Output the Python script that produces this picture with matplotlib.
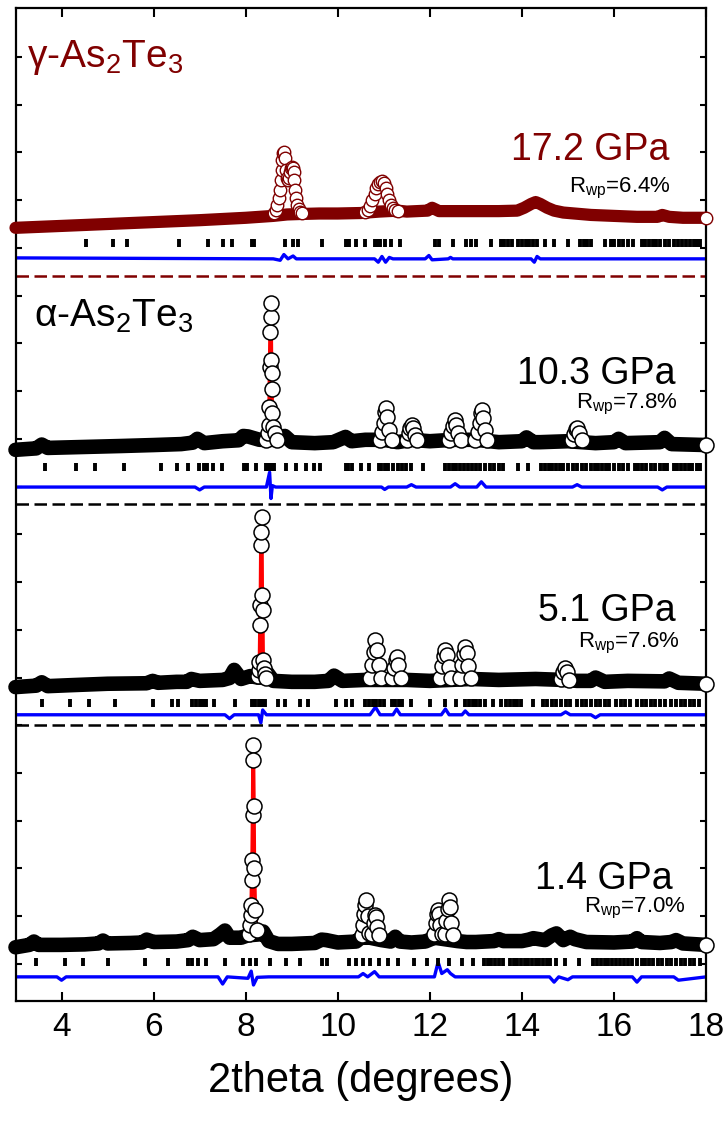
import matplotlib.pyplot as plt

plt.rcParams['font.family'] = ['Liberation Sans', 'DejaVu Sans']
plt.rcParams['mathtext.fontset'] = 'custom'
plt.rcParams['mathtext.rm'] = 'Liberation Sans'
plt.rcParams['mathtext.it'] = 'Liberation Sans:italic'

MAROON = '#800000'

# ---------------- 17.2 GPa, gamma phase ----------------
g172_band_x = [3.0, 4.0, 5.0, 6.0, 7.0, 8.0, 8.6, 8.9, 9.2, 9.6, 10.0, 10.5, 10.9, 11.3, 11.5, 11.95,
               12.05, 12.2, 12.5, 13.0, 13.5, 13.9, 14.05, 14.2, 14.3, 14.4, 14.55, 14.7, 14.9, 15.5,
               16.0, 16.5, 16.95, 17.05, 17.2, 17.5, 18.0]
g172_band_y = [15.42, 15.46, 15.5, 15.54, 15.58, 15.63, 15.67, 15.7, 15.71, 15.72, 15.72, 15.73, 15.76,
               15.78, 15.76, 15.78, 15.84, 15.77, 15.77, 15.77, 15.77, 15.78, 15.84, 15.92, 15.96,
               15.92, 15.84, 15.78, 15.74, 15.69, 15.67, 15.65, 15.65, 15.69, 15.65, 15.63, 15.63]
g172_peak_x = [[8.62, 8.66, 8.69, 8.72, 8.74, 8.76, 8.78, 8.80, 8.82, 8.84, 8.86, 8.88, 8.90, 8.92,
                8.94, 8.96, 8.98, 9.00, 9.02, 9.04, 9.06, 9.08, 9.10, 9.12, 9.15, 9.18, 9.22],
               [10.6, 10.65, 10.7, 10.75, 10.8, 10.84, 10.88, 10.92, 10.96, 11.0, 11.04, 11.08, 11.12,
                11.16, 11.2, 11.25, 11.3]]
g172_peak_y = [[15.73, 15.79, 15.9, 16.05, 16.21, 16.42, 16.63, 16.84, 16.99, 17.01, 16.88, 16.63,
                16.46, 16.42, 16.46, 16.59, 16.67, 16.7, 16.67, 16.59, 16.42, 16.21, 16.05, 15.9,
                15.81, 15.75, 15.73],
               [15.75, 15.79, 15.88, 16.0, 16.13, 16.25, 16.34, 16.38, 16.4, 16.36, 16.25, 16.13, 16.0,
                15.9, 15.84, 15.79, 15.77]]
g172_diff_x = [3, 8.6, 8.75, 8.83, 8.92, 9.03, 9.1, 10.8, 10.88, 10.96, 11.04, 11.12, 11.2, 11.9, 11.98,
               12.05, 12.4, 12.45, 12.5, 14.2, 14.27, 14.33, 14.4, 18]
g172_diff_y = [14.79, 14.77, 14.74, 14.86, 14.77, 14.83, 14.77, 14.77, 14.7, 14.82, 14.7, 14.8, 14.77,
               14.77, 14.84, 14.75, 14.77, 14.8, 14.77, 14.77, 14.7, 14.82, 14.77, 14.77]
g172_ticks = [4.53, 5.11, 5.42, 6.56, 7.19, 7.5, 7.71, 8.13, 8.18, 8.86, 9.03, 9.14, 9.66, 10.18, 10.24,
              10.4, 10.6, 10.8, 10.86, 10.92, 11.02, 11.15, 11.36, 12.12, 12.2, 12.5, 12.78, 12.9, 13.0,
              13.34, 13.55, 13.62, 13.7, 13.78, 13.92, 14.0, 14.08, 14.16, 14.24, 14.32, 14.5, 14.7,
              15.0, 15.26, 15.34, 15.42, 15.5, 15.8, 15.93, 16.0, 16.1, 16.2, 16.3, 16.42, 16.6, 16.68,
              16.76, 16.84, 16.92, 17.0, 17.12, 17.2, 17.3, 17.4, 17.48, 17.56, 17.66, 17.74, 17.8, 17.88]

# ---------------- 10.3 GPa, alpha phase ----------------
a103_band_x = [3.0, 3.45, 3.57, 3.7, 4.5, 5.3, 6.0, 6.6, 6.85, 6.95, 7.1, 7.5, 7.85, 7.95, 8.05, 8.3,
               8.45, 8.7, 8.85, 9.0, 9.5, 9.9, 10.17, 10.3, 10.6, 11.0, 11.3, 11.6, 12.0, 12.5, 13.0,
               13.5, 14.0, 14.1, 14.25, 14.4, 15.0, 15.6, 16.0, 16.1, 16.25, 17.0, 17.1, 17.25, 18.0]
a103_band_y = [10.77, 10.8, 10.88, 10.81, 10.83, 10.85, 10.87, 10.89, 10.92, 11.0, 10.91, 10.95, 10.97,
               11.06, 11.05, 10.98, 10.98, 10.98, 11.06, 10.93, 10.91, 10.93, 11.04, 10.95, 10.98,
               10.98, 10.93, 10.98, 10.95, 10.98, 10.98, 10.93, 10.95, 11.03, 10.93, 10.93, 10.95,
               10.91, 10.93, 11.0, 10.91, 10.93, 11.02, 10.89, 10.87]
a103_peak_x = [[8.45, 8.48, 8.50, 8.51, 8.52, 8.53, 8.54, 8.55, 8.56, 8.565, 8.57, 8.58, 8.60, 8.63, 8.67],
               [10.92, 10.97, 11.0, 11.03, 11.05, 11.08, 11.12, 11.17],
               [11.5, 11.55, 11.58, 11.61, 11.64, 11.68, 11.73],
               [12.42, 12.47, 12.51, 12.55, 12.58, 12.62, 12.67],
               [12.99, 13.04, 13.08, 13.11, 13.13, 13.16, 13.2, 13.25],
               [15.08, 15.13, 15.17, 15.2, 15.24, 15.3]]
a103_peak_y = [[10.98, 11.12, 11.29, 11.67, 12.51, 13.24, 13.55, 13.85, 12.65, 12.38, 12.04, 11.54, 11.25,
                11.12, 10.98],
               [10.98, 11.14, 11.33, 11.56, 11.65, 11.46, 11.19, 10.98],
               [10.98, 11.12, 11.23, 11.29, 11.23, 11.08, 10.98],
               [10.98, 11.12, 11.27, 11.4, 11.29, 11.12, 10.98],
               [10.98, 11.14, 11.33, 11.54, 11.6, 11.44, 11.19, 10.98],
               [10.98, 11.1, 11.21, 11.23, 11.12, 10.98]]
a103_diff_x = [3, 6.9, 7.0, 7.1, 8.45, 8.52, 8.55, 8.58, 8.65, 10.95, 11.02, 11.1, 11.5, 11.6, 11.7,
               12.45, 12.55, 12.65, 13.02, 13.12, 13.22, 15.1, 15.2, 15.3, 16.95, 17.05, 17.15, 18]
a103_diff_y = [9.99, 9.99, 9.93, 9.99, 9.99, 10.3, 9.75, 10.02, 9.99, 9.99, 9.94, 9.99, 9.99, 10.04,
               9.99, 9.99, 10.06, 9.99, 9.99, 10.1, 9.99, 9.99, 10.04, 9.99, 9.99, 9.93, 9.99, 9.99]
a103_ticks = [3.64, 4.31, 4.72, 5.35, 6.17, 6.5, 6.75, 6.99, 7.10, 7.17, 7.28, 7.49, 7.97, 8.03, 8.23,
              8.44, 8.5, 8.56, 8.62, 8.88, 9.09, 9.31, 9.48, 9.61, 10.17, 10.23, 10.3, 10.5, 10.67,
              10.89, 10.95, 11.02, 11.1, 11.2, 11.3, 11.4, 11.48, 11.6, 11.86, 12.34, 12.42, 12.5,
              12.58, 12.66, 12.75, 12.84, 12.92, 13.0, 13.1, 13.2, 13.3, 13.4, 13.5, 13.6, 13.92, 14.14,
              14.42, 14.5, 14.58, 14.66, 14.74, 14.82, 14.9, 15.0, 15.1, 15.2, 15.3, 15.4, 15.5, 15.58,
              15.66, 15.74, 15.82, 15.9, 16.0, 16.1, 16.2, 16.3, 16.45, 16.53, 16.61, 16.7, 16.8, 16.9,
              17.0, 17.08, 17.16, 17.3, 17.38, 17.46, 17.54, 17.62, 17.7, 17.8, 17.88]

# ---------------- 5.1 GPa, alpha phase ----------------
a51_band_x = [3.0, 3.45, 3.57, 3.7, 4.2, 5.0, 5.85, 5.98, 6.1, 6.5, 6.72, 6.82, 7.0, 7.5, 7.65, 7.75,
              7.9, 8.1, 8.26, 8.4, 8.47, 8.6, 9.0, 9.5, 9.8, 9.92, 10.1, 10.6, 11.5, 12.0, 12.9, 13.5,
              14.3, 14.9, 15.2, 15.5, 15.6, 15.8, 16.3, 17.1, 17.2, 17.4, 18.0]
a51_band_y = [5.8, 5.83, 5.9, 5.82, 5.84, 5.87, 5.88, 5.93, 5.89, 5.91, 5.91, 5.97, 5.93, 5.95, 5.99,
              6.16, 5.97, 6.03, 6.0, 6.0, 6.1, 5.93, 5.91, 5.91, 5.93, 6.04, 5.93, 5.95, 5.95, 5.93,
              5.97, 5.95, 5.97, 5.95, 5.93, 5.93, 6.0, 5.91, 5.93, 5.92, 5.98, 5.89, 5.87]
a51_peak_x = [[8.26, 8.28, 8.30, 8.31, 8.32, 8.33, 8.34, 8.35, 8.36, 8.37, 8.38, 8.39, 8.41, 8.44],
              [10.7, 10.75, 10.79, 10.82, 10.85, 10.89, 10.94],
              [11.18, 11.22, 11.26, 11.29, 11.32, 11.37],
              [12.22, 12.27, 12.31, 12.34, 12.37, 12.41, 12.46],
              [12.66, 12.7, 12.74, 12.77, 12.8, 12.84, 12.9],
              [14.85, 14.9, 14.94, 14.98, 15.03]]
a51_peak_y = [[6.03, 6.16, 6.33, 7.10, 7.52, 8.78, 9.05, 9.36, 7.73, 7.42, 6.37, 6.20, 6.07, 5.99],
              [5.99, 6.26, 6.54, 6.79, 6.58, 6.26, 5.99],
              [5.99, 6.2, 6.37, 6.43, 6.26, 5.99],
              [5.99, 6.24, 6.45, 6.58, 6.47, 6.22, 5.99],
              [5.99, 6.26, 6.49, 6.64, 6.52, 6.24, 5.99],
              [5.97, 6.12, 6.2, 6.12, 5.95]]
a51_diff_x = [3, 7.55, 7.65, 7.75, 8.28, 8.33, 8.37, 8.45, 10.7, 10.82, 10.92, 11.2, 11.28, 11.36,
              12.25, 12.34, 12.42, 12.7, 12.77, 12.85, 14.85, 14.95, 15.05, 15.5, 15.6, 15.7, 18]
a51_diff_y = [5.22, 5.22, 5.14, 5.22, 5.22, 5.05, 5.32, 5.22, 5.22, 5.38, 5.22, 5.22, 5.34, 5.22,
              5.22, 5.34, 5.22, 5.22, 5.3, 5.22, 5.22, 5.28, 5.22, 5.22, 5.16, 5.22, 5.22]
a51_ticks = [3.57, 4.19, 4.6, 5.17, 5.98, 6.41, 6.54, 6.84, 6.93, 7.0, 7.08, 7.14, 7.32, 7.77, 8.14,
             8.2, 8.3, 8.36, 8.42, 8.7, 8.85, 9.18, 9.35, 9.96, 10.17, 10.31, 10.6, 10.68, 10.76, 10.84,
             10.92, 11.0, 11.17, 11.25, 11.33, 11.39, 11.6, 12.01, 12.32, 12.58, 12.77, 12.85, 12.93,
             13.0, 13.1, 13.2, 13.38, 13.55, 13.66, 13.74, 13.82, 13.9, 13.98, 14.25, 14.45, 14.55,
             14.65, 14.75, 14.85, 14.95, 15.05, 15.2, 15.3, 15.4, 15.5, 15.6, 15.7, 15.8, 15.9, 16.05,
             16.15, 16.25, 16.35, 16.5, 16.6, 16.7, 16.8, 16.9, 17.0, 17.1, 17.25, 17.35, 17.45, 17.55,
             17.65, 17.75, 17.85]

# ---------------- 1.4 GPa, alpha phase ----------------
a14_band_x = [3.0, 3.3, 3.4, 3.5, 4.0, 4.5, 4.8, 4.9, 5.0, 5.5, 5.75, 5.85, 6.0, 6.5, 6.75, 6.85, 7.0,
              7.3, 7.45, 7.55, 7.65, 7.9, 8.05, 8.3, 8.38, 8.5, 8.7, 9.0, 9.5, 9.65, 9.75, 10.0, 10.4,
              10.5, 10.7, 10.95, 11.15, 11.25, 11.35, 11.6, 11.9, 12.0, 12.1, 12.6, 12.8, 13.0, 13.4,
              13.5, 13.6, 14.0, 14.15, 14.25, 14.5, 14.65, 14.75, 14.9, 15.05, 15.15, 15.4, 16.0, 16.4,
              16.5, 16.6, 17.0, 17.25, 17.35, 17.5, 18.0]
a14_band_y = [0.35, 0.4, 0.47, 0.4, 0.4, 0.41, 0.43, 0.49, 0.43, 0.44, 0.45, 0.51, 0.46, 0.47, 0.5,
              0.57, 0.5, 0.52, 0.62, 0.7, 0.55, 0.55, 0.6, 0.62, 0.68, 0.48, 0.42, 0.42, 0.44, 0.51,
              0.5, 0.45, 0.47, 0.55, 0.55, 0.5, 0.47, 0.57, 0.47, 0.45, 0.47, 0.51, 0.55, 0.48, 0.46,
              0.46, 0.48, 0.52, 0.48, 0.48, 0.51, 0.54, 0.5, 0.6, 0.64, 0.5, 0.57, 0.52, 0.46, 0.45,
              0.47, 0.54, 0.46, 0.44, 0.46, 0.5, 0.43, 0.4]
a14_peak_x = [[8.07, 8.09, 8.11, 8.12, 8.13, 8.14, 8.15, 8.16, 8.17, 8.18, 8.19, 8.21, 8.24],
              [10.52, 10.55, 10.58, 10.6, 10.62, 10.65, 10.69],
              [10.75, 10.78, 10.81, 10.83, 10.86, 10.9],
              [12.1, 12.13, 12.16, 12.18, 12.2, 12.23, 12.27],
              [12.33, 12.36, 12.39, 12.41, 12.43, 12.46, 12.5]]
a14_peak_y = [[0.62, 0.82, 1.03, 1.24, 1.76, 2.18, 3.12, 4.59, 4.27, 3.3, 2.0, 1.13, 0.71],
              [0.6, 0.82, 1.05, 1.24, 1.34, 1.0, 0.65],
              [0.62, 0.85, 1.03, 0.98, 0.78, 0.6],
              [0.62, 0.85, 1.05, 1.13, 1.05, 0.82, 0.62],
              [0.62, 0.9, 1.15, 1.34, 1.2, 0.85, 0.6]]
a14_diff_x = [3.0, 3.9, 4.0, 4.1, 7.4, 7.5, 7.6, 8.05, 8.12, 8.17, 8.25, 8.5, 10.45, 10.55, 10.65,
              10.8, 10.9, 12.1, 12.18, 12.26, 12.38, 12.45, 12.55, 14.6, 14.7, 14.8, 15.0, 15.1, 16.4,
              16.5, 16.6, 17.3, 17.4, 18.0]
a14_diff_y = [-0.27, -0.27, -0.34, -0.27, -0.27, -0.42, -0.27, -0.30, -0.15, -0.44, -0.28, -0.27,
              -0.27, -0.2, -0.27, -0.16, -0.27, -0.27, 0.04, -0.2, -0.12, -0.2, -0.27, -0.27, -0.38,
              -0.27, -0.33, -0.27, -0.27, -0.38, -0.27, -0.27, -0.34, -0.27]
a14_ticks = [3.45, 4.07, 4.46, 5.01, 5.82, 6.32, 6.74, 6.84, 6.97, 7.14, 7.55, 7.95, 8.1, 8.23, 8.53,
             8.88, 9.19, 9.66, 9.76, 10.25, 10.4, 10.55, 10.7, 10.9, 11.09, 11.32, 11.65, 11.93, 12.18,
             12.42, 12.69, 12.93, 13.18, 13.26, 13.34, 13.42, 13.5, 13.6, 13.74, 13.82, 13.9, 13.98,
             14.06, 14.14, 14.22, 14.3, 14.38, 14.46, 14.54, 14.62, 14.74, 14.94, 15.24, 15.55, 15.63,
             15.71, 15.8, 15.88, 15.96, 16.05, 16.14, 16.22, 16.3, 16.4, 16.5, 16.6, 16.68, 16.76,
             16.85, 16.95, 17.05, 17.15, 17.25, 17.35, 17.45, 17.55, 17.65, 17.75, 17.86]

# offsets of the tick rows and separators (stacking)
tick_rows = [15.1, 10.41, 5.47, 0.04]
separators = [(14.41, MAROON), (9.64, 'black'), (5.0, 'black')]

patterns = [
    dict(band=(g172_band_x, g172_band_y), peaks=(g172_peak_x, g172_peak_y), diff=(g172_diff_x, g172_diff_y),
         ticks=g172_ticks, col=MAROON, calc=MAROON, ms=9.0, mew=1.0, lw=8.8),
    dict(band=(a103_band_x, a103_band_y), peaks=(a103_peak_x, a103_peak_y), diff=(a103_diff_x, a103_diff_y),
         ticks=a103_ticks, col='black', calc='red', ms=10.8, mew=1.1, lw=10.5),
    dict(band=(a51_band_x, a51_band_y), peaks=(a51_peak_x, a51_peak_y), diff=(a51_diff_x, a51_diff_y),
         ticks=a51_ticks, col='black', calc='red', ms=10.8, mew=1.1, lw=10.5),
    dict(band=(a14_band_x, a14_band_y), peaks=(a14_peak_x, a14_peak_y), diff=(a14_diff_x, a14_diff_y),
         ticks=a14_ticks, col='black', calc='red', ms=10.8, mew=1.1, lw=10.5),
]

fig = plt.figure(figsize=(7.27, 11.25), dpi=100)
ax = fig.add_axes([15.5 / 727, 1 - 1000.5 / 1125, 690.5 / 727, 993 / 1125])

for p, ty in zip(patterns, tick_rows):
    bx, by = p['band']
    ax.plot(bx, by, color=p['col'], lw=p['lw'], solid_capstyle='round', solid_joinstyle='round',
            zorder=3, clip_on=False)
    for px, py in zip(*p['peaks']):
        ax.plot(px, py, color=p['calc'], lw=2.6, zorder=4)
        ax.plot(px, py, ls='none', marker='o', ms=p['ms'], mfc='white', mec=p['col'], mew=p['mew'],
                zorder=5, clip_on=False)
    # last observed point, left uncovered
    ax.plot(bx[-1], by[-1], ls='none', marker='o', ms=p['ms'], mfc='white', mec=p['col'], mew=p['mew'],
            zorder=6, clip_on=False)
    dx, dy = p['diff']
    ax.plot(dx, dy, color='#0000ff', lw=2.4, zorder=2)
    ax.plot(p['ticks'], [ty] * len(p['ticks']), ls='none', marker='|', ms=6, mew=2.8, color='black', zorder=2)

for yv, c in separators:
    ax.axhline(yv, color=c, lw=1.8, dashes=(5, 2.2), zorder=2)

# labels
ax.text(3.25, 18.79, 'γ-As$_2$Te$_3$', color=MAROON, fontsize=28, va='baseline')
ax.text(3.4, 13.34, 'α-As$_2$Te$_3$', color='black', fontsize=28, va='baseline')
ax.text(17.21, 16.84, '17.2 GPa', color=MAROON, fontsize=27, ha='right', va='baseline')
ax.text(17.23, 16.17, 'R$_{\\mathrm{wp}}$=6.4%', fontsize=16, ha='right', va='baseline')
ax.text(17.34, 12.15, '10.3 GPa', fontsize=27, ha='right', va='baseline')
ax.text(17.38, 11.63, 'R$_{\\mathrm{wp}}$=7.8%', fontsize=16, ha='right', va='baseline')
ax.text(17.34, 7.18, '5.1 GPa', fontsize=27, ha='right', va='baseline')
ax.text(17.43, 6.64, 'R$_{\\mathrm{wp}}$=7.6%', fontsize=16, ha='right', va='baseline')
ax.text(17.28, 1.57, '1.4 GPa', fontsize=27, ha='right', va='baseline')
ax.text(17.56, 1.09, 'R$_{\\mathrm{wp}}$=7.0%', fontsize=16, ha='right', va='baseline')

ax.set_xlim(3, 18)
ax.set_ylim(-0.765, 20.035)
ax.set_xticks(range(4, 19, 2))
ax.set_yticks(range(0, 20))
ax.tick_params(axis='x', direction='in', length=6.5, width=1.5, top=True, labelsize=24, pad=8)
ax.tick_params(axis='y', direction='in', length=4.3, width=1.5, right=True, labelleft=False)
for s in ax.spines.values():
    s.set_linewidth(1.6)
ax.set_xlabel('2theta (degrees)', fontsize=30, labelpad=13)

fig.savefig('out.png', dpi=100)
